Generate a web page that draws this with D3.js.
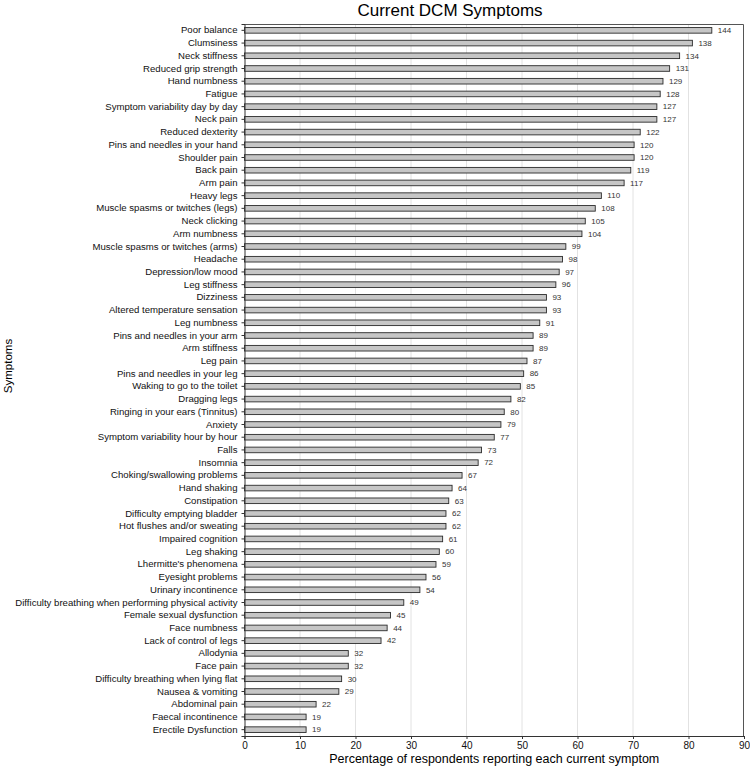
<!DOCTYPE html>
<html>
<head>
<meta charset="utf-8">
<script src="https://cdn.jsdelivr.net/npm/d3@7"></script>
<style>
  body { margin: 0; background: #fff; }
  text { font-family: "Liberation Sans", Arial, sans-serif; }
</style>
</head>
<body>
<svg id="chart" width="750" height="767"></svg>
<script>
// symptom names, top to bottom
var symptoms = [
  "Poor balance", "Clumsiness", "Neck stiffness", "Reduced grip strength", "Hand numbness",
  "Fatigue", "Symptom variability day by day", "Neck pain", "Reduced dexterity",
  "Pins and needles in your hand", "Shoulder pain", "Back pain", "Arm pain", "Heavy legs",
  "Muscle spasms or twitches (legs)", "Neck clicking", "Arm numbness",
  "Muscle spasms or twitches (arms)", "Headache", "Depression/low mood", "Leg stiffness",
  "Dizziness", "Altered temperature sensation", "Leg numbness", "Pins and needles in your arm",
  "Arm stiffness", "Leg pain", "Pins and needles in your leg", "Waking to go to the toilet",
  "Dragging legs", "Ringing in your ears (Tinnitus)", "Anxiety", "Symptom variability hour by hour",
  "Falls", "Insomnia", "Choking/swallowing problems", "Hand shaking", "Constipation",
  "Difficulty emptying bladder", "Hot flushes and/or sweating", "Impaired cognition",
  "Leg shaking", "Lhermitte's phenomena", "Eyesight problems", "Urinary incontinence",
  "Difficulty breathing when performing physical activity", "Female sexual dysfunction",
  "Face numbness", "Lack of control of legs", "Allodynia", "Face pain",
  "Difficulty breathing when lying flat", "Nausea & vomiting", "Abdominal pain",
  "Faecal incontinence", "Erectile Dysfunction"
];

// number of respondents (printed next to each bar)
var counts = [
  144, 138, 134, 131, 129, 128, 127, 127, 122, 120, 120, 119, 117, 110, 108, 105, 104,
  99, 98, 97, 96, 93, 93, 91, 89, 89, 87, 86, 85, 82, 80, 79, 77, 73, 72, 67, 64, 63,
  62, 62, 61, 60, 59, 56, 54, 49, 45, 44, 42, 32, 32, 30, 29, 22, 19, 19
];

// percentage of respondents (bar length)
var percents = [
  84.2, 80.7, 78.4, 76.6, 75.4, 74.9, 74.3, 74.3, 71.3, 70.2, 70.2, 69.6, 68.4, 64.3,
  63.2, 61.4, 60.8, 57.9, 57.3, 56.7, 56.1, 54.4, 54.4, 53.2, 52.0, 52.0, 50.9, 50.3,
  49.7, 48.0, 46.8, 46.2, 45.0, 42.7, 42.1, 39.2, 37.4, 36.8, 36.3, 36.3, 35.7, 35.1,
  34.5, 32.7, 31.6, 28.7, 26.3, 25.7, 24.6, 18.7, 18.7, 17.5, 17.0, 12.9, 11.1, 11.1
];

var xTicks = [0, 10, 20, 30, 40, 50, 60, 70, 80, 90];

var data = symptoms.map(function(s, i) {
  return { name: s, count: counts[i], pct: percents[i] };
});

var margin = { top: 24, right: 6, bottom: 31, left: 244.5 };
var width = 750 - margin.left - margin.right;
var height = 767 - margin.top - margin.bottom;

var svg = d3.select("#chart");
var g = svg.append("g").attr("transform", "translate(" + margin.left + "," + margin.top + ")");

var x = d3.scaleLinear().domain([0, 90]).range([0, width]);
var y = d3.scaleBand().domain(symptoms).range([0, height]).paddingInner(0.56).paddingOuter(0.28);

// grid lines
g.selectAll("line.grid")
  .data(xTicks.slice(1, -1))
  .enter()
  .append("line")
  .attr("x1", function(d) { return x(d); })
  .attr("x2", function(d) { return x(d); })
  .attr("y1", 0)
  .attr("y2", height)
  .attr("stroke", "#e2e2e2")
  .attr("stroke-width", 1);

// frame top / right
g.append("path")
  .attr("d", "M0,0.5H" + (width - 0.5) + "V" + height)
  .attr("fill", "none")
  .attr("stroke", "#555")
  .attr("stroke-width", 1);

// bars
g.selectAll("rect.bar")
  .data(data)
  .enter()
  .append("rect")
  .attr("x", x(0))
  .attr("y", function(d) { return y(d.name); })
  .attr("width", function(d) { return x(d.pct) - x(0); })
  .attr("height", y.bandwidth())
  .attr("fill", "#c6c6c6")
  .attr("stroke", "#2a2a2a")
  .attr("stroke-width", 0.9);

// count labels
g.selectAll("text.count")
  .data(data)
  .enter()
  .append("text")
  .attr("x", function(d) { return x(d.pct) + 6; })
  .attr("y", function(d) { return y(d.name) + y.bandwidth() / 2; })
  .attr("dy", "0.35em")
  .style("font-size", "8px")
  .style("fill", "#333")
  .text(function(d) { return d.count; });

// y axis
var yAxis = g.append("g")
  .call(d3.axisLeft(y).tickSize(3).tickPadding(4));
yAxis.selectAll("text").style("font-size", "9.6px").style("fill", "#111");
yAxis.select(".domain").attr("stroke", "#333");
yAxis.selectAll(".tick line").attr("stroke", "#333");

// x axis
var xAxis = g.append("g")
  .attr("transform", "translate(0," + height + ")")
  .call(d3.axisBottom(x).tickValues(xTicks).tickSize(3).tickPadding(3));
xAxis.selectAll("text").style("font-size", "10px").style("fill", "#111");
xAxis.select(".domain").attr("stroke", "#333");
xAxis.selectAll(".tick line").attr("stroke", "#333");

// titles
svg.append("text")
  .attr("x", 450)
  .attr("y", 16)
  .attr("text-anchor", "middle")
  .style("font-size", "17px")
  .text("Current DCM Symptoms");

svg.append("text")
  .attr("x", margin.left + width / 2)
  .attr("y", 763)
  .attr("text-anchor", "middle")
  .style("font-size", "12.5px")
  .text("Percentage of respondents reporting each current symptom");

svg.append("text")
  .attr("transform", "translate(12,366) rotate(-90)")
  .attr("text-anchor", "middle")
  .style("font-size", "11.5px")
  .text("Symptoms");
</script>
</body>
</html>
